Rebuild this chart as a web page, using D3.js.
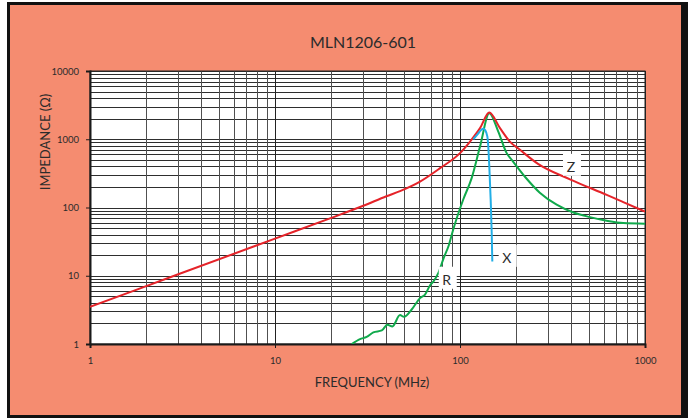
<!DOCTYPE html>
<html><head><meta charset="utf-8">
<script src="https://cdn.jsdelivr.net/npm/d3@7"></script>
<style>
html,body{margin:0;padding:0;background:#fff}
svg{display:block}
text{font-family:Lato,"Open Sans",sans-serif;fill:#2b2b2b}
</style>
</head><body>
<svg id="c" width="688" height="418"></svg>
<script>
// ---------- data ----------
const chartTitle = "MLN1206-601";
const xTitle = "FREQUENCY (MHz)";
const yTitle = "IMPEDANCE (Ω)";
const xTickValues = [1, 10, 100, 1000];
const yTickValues = [1, 10, 100, 1000, 10000];

// Z (impedance)
const zFreq  = [1, 3, 10, 20, 30, 40, 47.4, 60.8, 78, 100, 113.3, 128.3, 144, 164.5, 186, 211, 264, 393, 621, 763, 1000];
const zValue = [3.5, 10.5, 35, 70, 106, 146, 174, 240, 377, 626, 925, 1454, 2460, 1454, 925, 700, 436, 259, 153, 120, 87];

// R (resistance)
const rFreq  = [26, 28.8, 31.3, 34, 37.8, 40.5, 43.1, 47.4, 49.8, 54.8, 60.8, 64.7, 68.8, 72, 76.3, 81.5, 87, 92, 104, 115.6, 128.3, 144, 161, 178.8, 190.4, 225, 270, 333, 410, 504, 621, 763, 1000];
const rValue = [1.0, 1.18, 1.27, 1.48, 1.58, 1.92, 1.81, 2.65, 2.5, 3.2, 4.7, 5.3, 7.2, 8.3, 10.9, 18, 28, 48, 130, 269, 782, 2410, 1297, 626, 499, 280, 165, 110, 84.5, 72.3, 63.9, 59.1, 58];

// X (reactance)
const xFreq  = [118, 125, 130, 133.6, 137, 140.5, 142.2, 144, 146.5, 148.4, 149.5];
const xValue = [1000, 1200, 1370, 1420, 1350, 1100, 782, 400, 130, 42, 16.2];

// curve labels: [text, freq, value]
const curveLabels = [["Z", 398, 394], ["X", 178.8, 18.3], ["R", 84.8, 8.74]];

// ---------- layout ----------
const W = 688, H = 418;
const L = 90, R = 645, T = 71, B = 344;
const svg = d3.select("#c");

svg.append("rect").attr("x", 7).attr("y", 2).attr("width", W - 7).attr("height", H - 2).attr("fill", "#111");
svg.append("rect").attr("x", 10).attr("y", 5).attr("width", 671).attr("height", 410).attr("fill", "#F58C70");

const x = d3.scaleLog().domain([1, 1000]).range([L, R]);
const y = d3.scaleLog().domain([1, 10000]).range([B, T]);

const g = svg.append("g");
g.append("rect").attr("x", L).attr("y", T).attr("width", R - L).attr("height", B - T).attr("fill", "#fff");

// grid
const crisp = v => Math.round(v) + 0.5;
g.append("g").selectAll("line").data(y.ticks()).join("line")
  .attr("x1", L).attr("x2", R)
  .attr("y1", d => crisp(y(d))).attr("y2", d => crisp(y(d)))
  .attr("stroke", "#2e2e2e").attr("stroke-width", 1);
g.append("g").selectAll("line").data(x.ticks()).join("line")
  .attr("y1", T).attr("y2", B)
  .attr("x1", d => crisp(x(d))).attr("x2", d => crisp(x(d)))
  .attr("stroke", d => xTickValues.includes(d) ? "#222" : "#505050").attr("stroke-width", 1);

// border
g.append("rect").attr("x", L).attr("y", T).attr("width", R - L).attr("height", B - T)
  .attr("fill", "none").attr("stroke", "#222").attr("stroke-width", 1);

// axes
const ax = svg.append("g").attr("transform", `translate(0,${B})`)
  .call(d3.axisBottom(x).tickValues(xTickValues).tickFormat(d3.format("d")).tickSize(4).tickPadding(9));
const ay = svg.append("g").attr("transform", `translate(${L},0)`)
  .call(d3.axisLeft(y).tickValues(yTickValues).tickFormat(d3.format("d")).tickSize(4).tickPadding(7));
[ax, ay].forEach(a => {
  a.select(".domain").attr("stroke", "#1a1a1a").attr("stroke-width", 2);
  a.selectAll(".tick line").attr("stroke", "#1a1a1a");
  a.selectAll(".tick text").attr("font-family", "Lato, 'Open Sans', sans-serif").attr("font-size", 9.5).attr("fill", "#2b2b2b");
});

// curves
svg.append("clipPath").attr("id", "pc").append("rect")
  .attr("x", L).attr("y", T).attr("width", R - L).attr("height", B - T);
const line = d3.line().x(d => x(d[0])).y(d => y(d[1])).curve(d3.curveMonotoneX);
const series = [
  [rFreq, rValue, "#10A94B"],
  [zFreq, zValue, "#E52329"],
  [xFreq, xValue, "#22AEE6"]
];
series.forEach(([f, v, c]) => {
  svg.append("path").attr("clip-path", "url(#pc)")
    .attr("d", line(f.map((d, i) => [d, v[i]])))
    .attr("fill", "none").attr("stroke", c).attr("stroke-width", 2).attr("stroke-linejoin", "round");
});

// curve labels
curveLabels.forEach(([t, f, v]) => {
  const cx = x(f), cy = y(v);
  svg.append("rect").attr("x", cx - 8).attr("y", cy - 13).attr("width", 18).attr("height", 22).attr("fill", "#fff");
  svg.append("text").attr("x", cx).attr("y", cy + 5).attr("text-anchor", "middle")
    .attr("font-size", 14).text(t);
});

// titles
svg.append("text").attr("x", 363).attr("y", 48).attr("text-anchor", "middle").attr("font-size", 16).text(chartTitle);
svg.append("text").attr("x", 372).attr("y", 387).attr("text-anchor", "middle").attr("font-size", 13).text(xTitle);
svg.append("text").attr("transform", "translate(50,142) rotate(-90)").attr("text-anchor", "middle").attr("font-size", 13).text(yTitle);
</script>
</body></html>
